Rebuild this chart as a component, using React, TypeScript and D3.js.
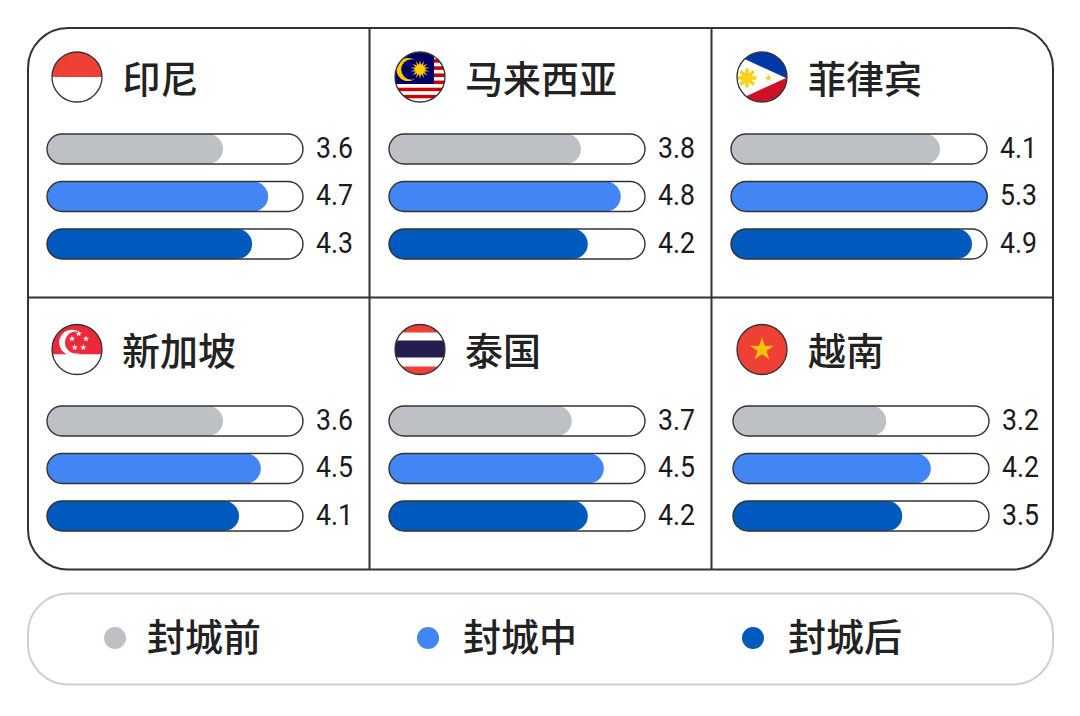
import React from 'react';
import * as d3 from 'd3';

const countries = ['印尼', '马来西亚', '菲律宾', '新加坡', '泰国', '越南'];
const phases = ['封城前', '封城中', '封城后'];
const phaseColors = ['#bdc1c6', '#4285f4', '#0059bd'];

// printed scores
const labelsBefore = ['3.6', '3.8', '4.1', '3.6', '3.7', '3.2'];
const labelsDuring = ['4.7', '4.8', '5.3', '4.5', '4.5', '4.2'];
const labelsAfter = ['4.3', '4.2', '4.9', '4.1', '4.2', '3.5'];

// bar lengths, they do not always agree with the printed score
const barsBefore = [3.63, 3.96, 4.31, 3.63, 3.77, 3.16];
const barsDuring = [4.56, 4.78, 5.3, 4.41, 4.43, 4.08];
const barsAfter = [4.23, 4.1, 4.97, 3.96, 4.1, 3.49];

const labelRows = [labelsBefore, labelsDuring, labelsAfter];
const barRows = [barsBefore, barsDuring, barsAfter];

const CJK = '"Noto Sans CJK SC", "Noto Sans", sans-serif';
const INK = '#333';

const panelLeft = [27, 369, 711];
const panelTop = [27, 299];
const flagCx = [77, 420, 762, 77, 420, 762];
const flagCy = [77, 77, 77, 349.5, 349.5, 349.5];
const trackOffset = [20, 20, 20, 20, 20, 22];
const titleX = [122.5, 465, 808, 122, 465, 808];
const trackW = 256;
const barH = 30;

const x = d3.scaleLinear().domain([0, 5.3]).range([0, 257]);
const rowY = d3.scalePoint<number>().domain([0, 1, 2]).range([122, 217]);

const star = (size: number) => d3.symbol(d3.symbolStar, size)() as string;

const Flag: React.FC<{ index: number; cx: number; cy: number }> = ({ index, cx, cy }) => {
  const r = 25;
  const id = `flag-${index}`;
  let body: React.ReactNode = null;

  if (index === 0) {
    body = (
      <>
        <rect x={-r} y={-r} width={2 * r} height={r} fill="#ee4035" />
        <rect x={-r} y={0} width={2 * r} height={r} fill="#fff" />
      </>
    );
  } else if (index === 1) {
    const stripeH = (2 * r) / 14;
    body = (
      <>
        {d3.range(14).map((i) => (
          <rect key={i} x={-r} y={-r + i * stripeH} width={2 * r} height={stripeH + 0.2} fill={i % 2 ? '#fff' : '#cc0001'} />
        ))}
        <rect x={-r} y={-r} width={r + 14} height={32} fill="#010066" />
        <circle cx={-12} cy={-7.5} r={11.5} fill="#ffcc00" />
        <circle cx={-8.5} cy={-7.5} r={10.3} fill="#010066" />
        {d3.range(14).map((i) => (
          <path
            key={i}
            d="M-1.9 0L0 -9.5L1.9 0Z"
            fill="#ffcc00"
            transform={`translate(0,-7.5) rotate(${(i * 360) / 14})`}
          />
        ))}
        <circle cx={0} cy={-7.5} r={5} fill="#ffcc00" />
      </>
    );
  } else if (index === 2) {
    body = (
      <>
        <rect x={-r} y={-r} width={2 * r} height={r + 1} fill="#0038a8" />
        <rect x={-r} y={1} width={2 * r} height={r} fill="#ce1126" />
        <path d="M-26 -22L24 1L-26 24Z" fill="#fff" />
        {d3.range(8).map((i) => (
          <path
            key={i}
            d="M-1.7 0L-1.7 -9.5L1.7 -9.5L1.7 0Z"
            fill="#fcd116"
            transform={`translate(-15,1) rotate(${i * 45})`}
          />
        ))}
        <circle cx={-15} cy={1} r={5.6} fill="#fcd116" />
        <path d={star(16)} fill="#fcd116" transform="translate(6.5,1)" />
      </>
    );
  } else if (index === 3) {
    const stars = [
      [1.7, -15.7],
      [9, -10.7],
      [6.3, -2],
      [-2.3, -2],
      [-5, -10.7],
    ];
    body = (
      <>
        <rect x={-r} y={-r} width={2 * r} height={r + 5} fill="#ed2939" />
        <rect x={-r} y={5} width={2 * r} height={r} fill="#fff" />
        <circle cx={-5} cy={-7} r={12.8} fill="#fff" />
        <circle cx={-1} cy={-7} r={11} fill="#ed2939" />
        {stars.map((s, i) => (
          <path key={i} d={star(13)} fill="#fff" transform={`translate(${s[0]},${s[1]})`} />
        ))}
      </>
    );
  } else if (index === 4) {
    body = (
      <>
        <rect x={-r} y={-r} width={2 * r} height={2 * r} fill="#ee4035" />
        <rect x={-r} y={-17} width={2 * r} height={34} fill="#fff" />
        <rect x={-r} y={-9} width={2 * r} height={17} fill="#241d4f" />
      </>
    );
  } else {
    body = (
      <>
        <rect x={-r} y={-r} width={2 * r} height={2 * r} fill="#ee4035" />
        <path d={star(175)} fill="#ffc107" />
      </>
    );
  }

  return (
    <g transform={`translate(${cx},${cy})`}>
      <clipPath id={id}>
        <circle r={r} />
      </clipPath>
      <g clipPath={`url(#${id})`}>{body}</g>
      <circle r={r} fill="none" stroke={INK} strokeWidth={1.3} />
    </g>
  );
};

const legendDotX = [115, 428, 753];
const legendTextX = [147, 463, 788];

const App: React.FC = () => {
  return (
    <svg
      width={1080}
      height={716}
      viewBox="0 0 1080 716"
      style={{ position: 'absolute', left: 0, top: 0, background: '#fff' }}
    >
      {countries.map((name, i) => {
        const col = i % 3;
        const left = panelLeft[col];
        const top = panelTop[Math.floor(i / 3)];
        const trackX = left + trackOffset[i];
        return (
          <g key={name}>
            <Flag index={i} cx={flagCx[i]} cy={flagCy[i]} />
            <text x={titleX[i]} y={top + 66} fontFamily={CJK} fontSize={38} fontWeight={500} fill="#222">
              {name}
            </text>
            {barRows.map((row, j) => {
              const cy = top + (rowY(j) as number);
              return (
                <g key={j}>
                  <rect x={trackX} y={cy - barH / 2} width={trackW} height={barH} rx={barH / 2} fill="#fff" />
                  <rect
                    x={trackX}
                    y={cy - barH / 2}
                    width={x(row[i])}
                    height={barH}
                    rx={barH / 2}
                    fill={phaseColors[j]}
                  />
                  <rect
                    x={trackX}
                    y={cy - barH / 2}
                    width={trackW}
                    height={barH}
                    rx={barH / 2}
                    fill="none"
                    stroke={INK}
                    strokeWidth={1.4}
                  />
                  <text
                    x={trackX + trackW + 13}
                    y={cy + 8.5}
                    fontFamily="Roboto, sans-serif"
                    fontSize={30}
                    fill="#1a1a1a"
                    textLength={37}
                    lengthAdjust="spacingAndGlyphs"
                  >
                    {labelRows[j][i]}
                  </text>
                </g>
              );
            })}
          </g>
        );
      })}

      <rect x={28} y={28} width={1025} height={541.5} rx={40} fill="none" stroke={INK} strokeWidth={2} />
      {[369.5, 711.5].map((v) => (
        <line key={v} x1={v} x2={v} y1={28} y2={569} stroke={INK} strokeWidth={2} />
      ))}
      <line x1={28} x2={1053} y1={297.5} y2={297.5} stroke={INK} strokeWidth={2} />

      <rect x={28} y={593.5} width={1025} height={91} rx={40} fill="#fff" stroke="#cdcfd2" strokeWidth={2} />
      {phases.map((p, i) => (
        <g key={p}>
          <circle cx={legendDotX[i]} cy={638} r={11} fill={phaseColors[i]} />
          <text x={legendTextX[i]} y={651} fontFamily={CJK} fontSize={38} fontWeight={500} fill="#222">
            {p}
          </text>
        </g>
      ))}
    </svg>
  );
};

export default App;
